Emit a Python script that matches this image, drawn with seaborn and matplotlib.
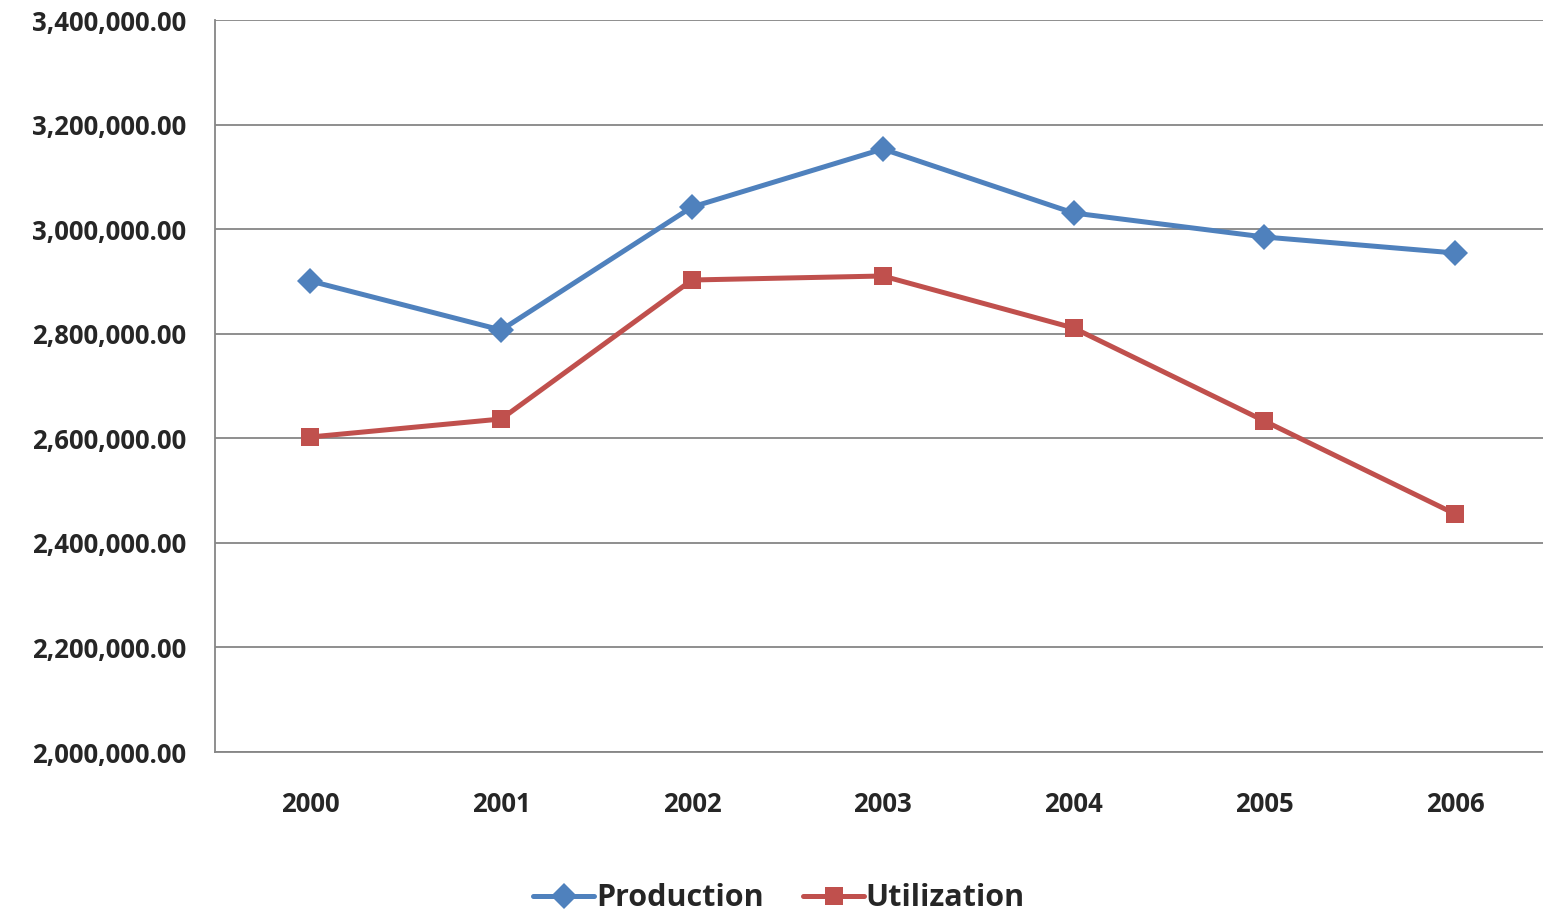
import matplotlib.pyplot as plt
import seaborn as sns
import pandas as pd
from matplotlib.ticker import FuncFormatter, FixedLocator

years = ["2000", "2001", "2002", "2003", "2004", "2005", "2006"]
production = [2900800, 2807100, 3042350, 3153280, 3030870, 2984970, 2954370]
utilization = [2602460, 2636890, 2902730, 2910380, 2810930, 2633060, 2455190]

df = pd.DataFrame({
    "year": list(range(len(years))) * 2,
    "value": production + utilization,
    "series": ["Production"] * len(years) + ["Utilization"] * len(years),
})

sns.set_style("white")
plt.rcParams["font.family"] = ["Open Sans", "DejaVu Sans"]

fig = plt.figure(figsize=(15.43, 9.14), dpi=100)
ax = fig.add_axes([215 / 1543, 1 - 752 / 914, 1328 / 1543, 732 / 914])

sns.lineplot(
    data=df, x="year", y="value", hue="series", style="series",
    palette={"Production": "#4F81BD", "Utilization": "#C0504D"},
    markers={"Production": "D", "Utilization": "s"},
    dashes=False, linewidth=3.6, markersize=13, markeredgewidth=0,
    ax=ax, legend=True,
)

ax.set_xlim(-0.5, 6.46)
ax.set_ylim(2000000, 3400000)
ax.set_yticks(range(2000000, 3400001, 200000))
ax.yaxis.set_major_formatter(FuncFormatter(lambda v, p: f"{v:,.2f}"))
ax.set_xticks(range(len(years)))
ax.set_xticklabels(years)
ax.xaxis.set_minor_locator(FixedLocator([i - 0.5 for i in range(len(years))]))
ax.tick_params(axis="x", which="major", length=0, pad=28, labelsize=18.5)
ax.tick_params(axis="x", which="minor", length=9, width=1.3, color="#868686", direction="out")
ax.tick_params(axis="y", length=9, width=1.3, color="#868686", direction="out", pad=12, labelsize=18.5)
for lbl in ax.get_xticklabels() + ax.get_yticklabels():
    lbl.set_fontweight("bold")

ax.grid(axis="y", color="#868686", linewidth=1.3)
ax.set_axisbelow(True)
sns.despine(ax=ax, top=True, right=True)
for s in ["left", "bottom"]:
    ax.spines[s].set_color("#868686")
    ax.spines[s].set_linewidth(1.3)
ax.set_xlabel("")
ax.set_ylabel("")

handles, labels = ax.get_legend_handles_labels()
ax.legend(
    handles, labels, loc="center", bbox_to_anchor=(0.5 - 100 / 1328, -0.2),
    ncol=2, frameon=False, prop={"weight": "bold", "size": 22},
    handlelength=2.0, handletextpad=0.05, columnspacing=1.3,
)

fig.savefig("out.png", dpi=100)
